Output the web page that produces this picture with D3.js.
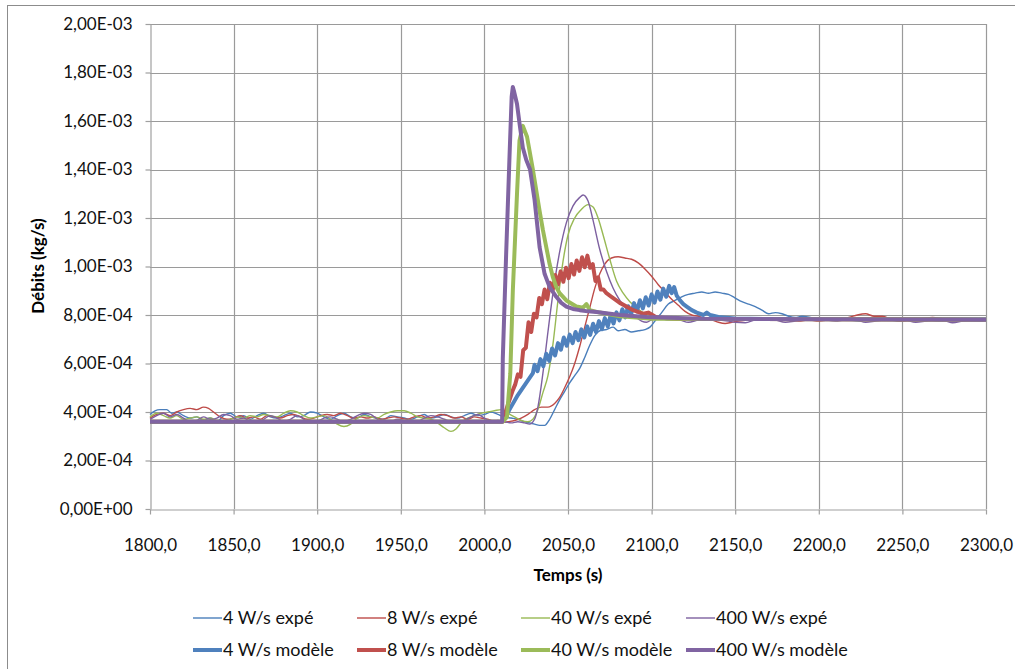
<!DOCTYPE html>
<html>
<head>
<meta charset="utf-8">
<script src="https://cdn.jsdelivr.net/npm/d3@7"></script>
<style>
  body { margin: 0; background: #fff; }
  svg { display: block; font-family: Lato, "Open Sans", sans-serif; }
</style>
</head>
<body>
<div id="chart"></div>
<script>
// values in 1e-4 kg/s, time in s
const unit = 1e-4;

const xTicks = [1800, 1850, 1900, 1950, 2000, 2050, 2100, 2150, 2200, 2250, 2300];
const yTicks = [0, 2, 4, 6, 8, 10, 12, 14, 16, 18, 20];

const seriesNames = ["4 W/s expé", "8 W/s expé", "40 W/s expé", "400 W/s expé",
                     "4 W/s modèle", "8 W/s modèle", "40 W/s modèle", "400 W/s modèle"];

const exp4 = [[1800,3.9],[1803,4.05],[1806,4.1],[1810,4.1],[1813,3.95],[1816,4.0],[1820,3.85],[1824,3.75],[1828,3.8],[1832,3.65],[1836,3.75],[1840,3.6],[1844,3.85],[1848,3.95],[1852,3.8],[1856,3.85],[1860,3.7],[1864,3.85],[1868,3.95],[1872,3.8],[1876,3.75],[1880,3.85],[1884,3.95],[1888,3.8],[1892,3.85],[1896,4.0],[1900,3.95],[1904,3.8],[1908,3.7],[1912,3.85],[1916,3.95],[1920,3.8],[1924,3.75],[1928,3.9],[1932,3.8],[1936,3.75],[1940,3.7],[1944,3.85],[1948,3.8],[1952,3.75],[1956,3.7],[1960,3.8],[1964,3.9],[1968,3.75],[1972,3.8],[1976,3.9],[1980,3.8],[1984,3.75],[1988,3.85],[1992,3.95],[1996,3.85],[2000,3.9],[2004,4.0],[2008,3.9],[2012,3.8],[2016,3.75],[2020,3.7],[2024,3.6],[2027,3.55],[2030,3.5],[2033,3.45],[2036,3.45],[2039,3.7],[2042,4.1],[2045,4.5],[2048,4.85],[2051,5.2],[2054,5.5],[2057,5.8],[2060,6.25],[2063,6.75],[2066,7.15],[2069,7.35],[2073,7.4],[2077,7.5],[2080,7.35],[2084,7.4],[2088,7.3],[2092,7.35],[2096,7.4],[2099,7.5],[2102,7.75],[2106,8.1],[2110,8.45],[2114,8.6],[2118,8.75],[2122,8.85],[2126,8.9],[2130,8.95],[2134,8.9],[2138,8.95],[2142,8.9],[2146,8.85],[2150,8.7],[2154,8.55],[2158,8.45],[2162,8.35],[2166,8.2],[2170,8.05],[2174,8.1],[2178,8.05],[2182,7.95],[2186,7.9],[2190,7.95],[2195,7.9],[2200,7.85],[2206,7.8],[2212,7.85],[2218,7.8],[2224,7.75],[2230,7.8],[2236,7.85],[2242,7.8],[2248,7.75],[2254,7.8],[2260,7.85],[2266,7.8],[2272,7.75],[2278,7.8],[2284,7.85],[2290,7.8],[2296,7.75],[2300,7.8]];

const exp8 = [[1800,3.75],[1804,3.9],[1808,3.95],[1812,3.85],[1816,4.0],[1820,4.1],[1824,4.15],[1828,4.1],[1832,4.2],[1835,4.15],[1838,4.0],[1842,3.8],[1846,3.7],[1850,3.75],[1854,3.85],[1858,3.75],[1862,3.8],[1866,3.7],[1870,3.85],[1874,3.8],[1878,3.75],[1882,3.85],[1886,3.9],[1890,3.8],[1894,3.7],[1898,3.75],[1902,3.85],[1906,3.9],[1910,3.85],[1914,3.95],[1918,3.85],[1922,3.75],[1926,3.8],[1930,3.75],[1934,3.8],[1938,3.7],[1942,3.75],[1946,3.8],[1950,3.75],[1954,3.7],[1958,3.8],[1962,3.85],[1966,3.75],[1970,3.8],[1974,3.9],[1978,3.85],[1982,3.75],[1986,3.8],[1990,3.7],[1994,3.8],[1998,3.75],[2002,3.7],[2006,3.6],[2010,3.55],[2014,3.6],[2018,3.65],[2022,3.75],[2026,3.9],[2030,4.1],[2034,4.2],[2038,4.2],[2042,4.35],[2045,4.6],[2048,5.0],[2051,5.45],[2054,6.0],[2057,6.7],[2060,7.5],[2063,8.3],[2066,9.1],[2069,9.7],[2072,10.1],[2076,10.35],[2080,10.4],[2084,10.35],[2088,10.3],[2092,10.15],[2096,9.9],[2100,9.6],[2104,9.25],[2108,8.95],[2112,8.65],[2116,8.4],[2120,8.15],[2124,8.0],[2128,7.95],[2132,7.85],[2136,7.8],[2140,7.7],[2144,7.65],[2148,7.7],[2152,7.75],[2158,7.8],[2164,7.85],[2170,7.8],[2176,7.85],[2182,7.8],[2188,7.75],[2194,7.8],[2200,7.75],[2206,7.8],[2212,7.85],[2218,7.9],[2223,8.0],[2228,8.05],[2233,7.95],[2238,7.95],[2244,7.8],[2250,7.75],[2256,7.8],[2262,7.85],[2268,7.9],[2274,7.85],[2280,7.8],[2286,7.85],[2292,7.8],[2300,7.8]];

const exp40 = [[1800,3.8],[1804,3.95],[1808,3.85],[1812,3.75],[1816,3.85],[1820,3.7],[1824,3.75],[1828,3.8],[1832,3.7],[1836,3.75],[1840,3.65],[1844,3.6],[1848,3.7],[1852,3.8],[1856,3.75],[1860,3.85],[1864,3.8],[1868,3.9],[1872,3.85],[1876,3.8],[1880,3.95],[1884,4.05],[1888,4.0],[1892,3.85],[1896,3.75],[1900,3.8],[1904,3.85],[1908,3.7],[1912,3.5],[1916,3.4],[1920,3.5],[1924,3.75],[1928,3.85],[1932,3.8],[1936,3.75],[1940,3.9],[1944,4.0],[1948,4.05],[1952,4.05],[1956,3.95],[1960,3.8],[1964,3.75],[1968,3.7],[1972,3.55],[1976,3.35],[1980,3.2],[1983,3.3],[1986,3.55],[1990,3.75],[1994,3.85],[1998,3.95],[2002,4.0],[2006,4.05],[2010,4.1],[2014,3.95],[2018,3.8],[2022,3.65],[2026,3.6],[2029,3.7],[2032,4.1],[2035,4.8],[2038,5.5],[2041,6.8],[2044,8.6],[2047,10.2],[2050,11.3],[2054,12.0],[2058,12.35],[2062,12.55],[2065,12.45],[2068,12.0],[2071,11.3],[2075,10.3],[2079,9.4],[2083,8.9],[2087,8.55],[2091,8.3],[2095,8.1],[2100,7.95],[2106,7.9],[2112,7.85],[2118,7.8],[2124,7.85],[2130,7.8],[2136,7.85],[2142,7.8],[2148,7.85],[2154,7.8],[2160,7.85],[2166,7.8],[2172,7.85],[2178,7.8],[2184,7.85],[2190,7.8],[2196,7.85],[2202,7.8],[2208,7.85],[2214,7.8],[2220,7.85],[2226,7.8],[2232,7.85],[2238,7.8],[2244,7.85],[2250,7.8],[2256,7.85],[2262,7.8],[2268,7.85],[2274,7.8],[2280,7.85],[2286,7.8],[2292,7.85],[2300,7.8]];

const exp400 = [[1800,3.7],[1804,3.85],[1808,3.95],[1812,3.8],[1816,3.9],[1820,3.75],[1824,3.6],[1828,3.65],[1832,3.8],[1836,3.7],[1840,3.75],[1844,3.9],[1848,3.85],[1852,3.7],[1856,3.75],[1860,3.6],[1864,3.55],[1868,3.7],[1872,3.85],[1876,3.75],[1880,3.6],[1884,3.7],[1888,3.85],[1892,3.7],[1896,3.55],[1900,3.6],[1904,3.75],[1908,3.8],[1912,3.7],[1916,3.6],[1920,3.7],[1924,3.85],[1928,3.95],[1932,3.9],[1936,3.7],[1940,3.55],[1944,3.6],[1948,3.7],[1952,3.65],[1956,3.55],[1960,3.6],[1964,3.75],[1968,3.85],[1972,3.8],[1976,3.7],[1980,3.6],[1984,3.55],[1988,3.65],[1992,3.8],[1996,3.9],[2000,3.75],[2004,3.6],[2008,3.65],[2012,3.6],[2016,3.55],[2020,3.6],[2024,3.55],[2027,3.5],[2030,3.7],[2032,4.2],[2035,5.6],[2038,7.3],[2041,8.9],[2045,10.6],[2049,11.8],[2053,12.5],[2057,12.85],[2059,12.95],[2062,12.7],[2065,11.9],[2069,10.7],[2073,9.8],[2077,9.1],[2081,8.6],[2085,8.25],[2090,7.95],[2094,7.75],[2097,7.7],[2100,7.8],[2105,7.85],[2110,7.8],[2116,7.8],[2122,7.7],[2128,7.8],[2134,7.85],[2140,7.8],[2146,7.75],[2150,7.7],[2156,7.68],[2162,7.8],[2168,7.85],[2174,7.8],[2180,7.7],[2186,7.75],[2192,7.8],[2198,7.85],[2204,7.8],[2210,7.75],[2216,7.8],[2222,7.8],[2228,7.7],[2234,7.75],[2240,7.8],[2246,7.85],[2252,7.8],[2258,7.7],[2264,7.75],[2270,7.8],[2276,7.75],[2280,7.68],[2286,7.75],[2292,7.8],[2300,7.85]];

const mod4 = [[1800,3.6],[2010.5,3.6],[2015,4.1],[2020,4.7],[2025,5.2],[2029,5.6],[2030,5.95],[2031.75,5.68],[2033.5,6.18],[2035.25,5.89],[2037,6.4],[2038.75,6.11],[2040.5,6.62],[2042.25,6.33],[2044,6.84],[2045.75,6.57],[2047.5,7.07],[2049.25,6.73],[2051,7.19],[2052.75,6.84],[2054.5,7.3],[2056.25,6.96],[2058,7.41],[2059.75,7.07],[2061.5,7.53],[2063.25,7.18],[2065,7.64],[2066.75,7.29],[2068.5,7.75],[2070.25,7.41],[2072,7.87],[2073.75,7.53],[2075.5,7.99],[2077.25,7.65],[2079,8.11],[2080.75,7.78],[2082.5,8.24],[2084.25,7.9],[2086,8.36],[2087.75,8.03],[2089.5,8.49],[2091.25,8.15],[2093,8.61],[2094.75,8.27],[2096.5,8.73],[2098.25,8.39],[2100,8.85],[2101.75,8.51],[2103.5,8.97],[2105.25,8.63],[2107,9.09],[2108.75,8.75],[2110.5,9.2],[2112,8.9],[2113.5,9.15],[2115,8.8],[2117,8.6],[2119,8.45],[2121,8.35],[2124,8.2],[2127,8.1],[2131,8.0],[2133,8.1],[2135,8.0],[2140,7.92],[2150,7.86],[2170,7.83],[2300,7.82]];

const mod8 = [[1800,3.6],[2010.5,3.6],[2012,3.85],[2014,4.3],[2017,4.9],[2018.5,5.15],[2020,5.55],[2021.6,5.45],[2023.2,6.55],[2024.8,6.65],[2026.4,7.7],[2028,7.3],[2029.6,8.05],[2031.2,7.9],[2032.8,8.7],[2034.4,8.45],[2036,9.05],[2037.6,8.65],[2039.2,9.33],[2040.8,9.0],[2042.4,9.65],[2044,9.25],[2045.6,9.8],[2047.2,9.37],[2048.8,9.95],[2050.4,9.52],[2052,10.1],[2053.6,9.67],[2055.2,10.25],[2056.8,9.82],[2058.4,10.38],[2060,9.97],[2061.6,10.45],[2063.2,9.95],[2064.8,10.1],[2066.4,9.4],[2068,9.55],[2069.6,9.05],[2071.2,9.05],[2073,8.9],[2076,8.75],[2081,8.5],[2085,8.35],[2089,8.2],[2095,8.05],[2098,8.1],[2103,7.9],[2115,7.85],[2300,7.8]];

const mod40 = [[1800,3.6],[2011,3.6],[2013.5,3.8],[2015.5,5.6],[2017,9.0],[2019.5,13.0],[2021,15.2],[2023,15.8],[2025.5,15.35],[2029,14.0],[2033,12.3],[2035,11.5],[2037,10.8],[2039,10.1],[2041,9.55],[2043,9.15],[2045,8.9],[2049,8.6],[2055,8.35],[2059,8.3],[2061,8.45],[2063,8.2],[2069,8.1],[2081,7.95],[2100,7.85],[2300,7.8]];

const mod400 = [[1800,3.6],[2010.6,3.6],[2011,6.2],[2013,10.5],[2015,14.5],[2016.3,17.0],[2017,17.4],[2017.8,17.2],[2019.5,16.7],[2021.3,15.75],[2023,14.9],[2025,14.4],[2027.3,14.0],[2030,12.75],[2033,10.8],[2036,9.7],[2039,9.15],[2043,8.75],[2046,8.5],[2049,8.35],[2053,8.25],[2057,8.2],[2062,8.15],[2067,8.12],[2081,8.0],[2097,7.92],[2130,7.85],[2300,7.8]];

const seriesData = [exp4, exp8, exp40, exp400, mod4, mod8, mod40, mod400];
const seriesColors = ["#4a7ebb", "#be4b48", "#98b954", "#7d60a0", "#4f81bd", "#c0504d", "#9bbb59", "#8064a2"];
const seriesWidths = [1.4, 1.4, 1.4, 1.4, 4, 4, 4, 4];

const W = 1015, H = 669;
const plot = {left: 150, top: 24, right: 986, bottom: 509};

const svg = d3.select('#chart').append('svg')
    .attr('width', W).attr('height', H);

// outer chart border (right/bottom fall outside the picture)
svg.append('rect')
    .attr('x', 7.5).attr('y', 5.5)
    .attr('width', W + 10).attr('height', H + 10)
    .attr('fill', 'none').attr('stroke', '#8c8c8c');

const x = d3.scaleLinear().domain([1800, 2300]).range([plot.left, plot.right]);
const y = d3.scaleLinear().domain([0, 20 * unit]).range([plot.bottom, plot.top]);

const loc = d3.formatLocale({decimal: ",", thousands: "", grouping: [3], currency: ["", ""]});
const fmtX = loc.format(".1f");
function fmtE(v) {
    if (v === 0) return "0,00E+00";
    const e = Math.floor(Math.log10(v) + 1e-9);
    const m = v / Math.pow(10, e);
    const s = e < 0 ? "-" : "+";
    return m.toFixed(2).replace(".", ",") + "E" + s + String(Math.abs(e)).padStart(2, "0");
}

const gridColor = '#9a9a9a';

// grid
svg.append('g').selectAll('line')
    .data(yTicks.filter(d => d > 0))
    .join('line')
    .attr('x1', plot.left).attr('x2', plot.right)
    .attr('y1', d => Math.round(y(d * unit)) + 0.5)
    .attr('y2', d => Math.round(y(d * unit)) + 0.5)
    .attr('stroke', gridColor).attr('stroke-width', 1.2);

svg.append('g').selectAll('line')
    .data(xTicks.filter(d => d > 1800))
    .join('line')
    .attr('y1', plot.top).attr('y2', plot.bottom)
    .attr('x1', d => Math.round(x(d)) + 0.5)
    .attr('x2', d => Math.round(x(d)) + 0.5)
    .attr('stroke', gridColor).attr('stroke-width', 1.2);

// axes
const axisY = d3.axisLeft(y)
    .tickValues(yTicks.map(d => d * unit))
    .tickFormat(fmtE)
    .tickSizeInner(5).tickSizeOuter(0).tickPadding(13);
const axisX = d3.axisBottom(x)
    .tickValues(xTicks)
    .tickFormat(fmtX)
    .tickSizeInner(5).tickSizeOuter(0).tickPadding(24);

const gy = svg.append('g')
    .attr('transform', `translate(${plot.left + 0.5},0)`)
    .call(axisY);
const gx = svg.append('g')
    .attr('transform', `translate(0,${plot.bottom + 0.5})`)
    .call(axisX);

[gx, gy].forEach(g => {
    g.selectAll('path, line').attr('stroke', '#a0a0a0').attr('stroke-width', 1.2);
    g.selectAll('text').attr('font-size', 17).attr('fill', '#111')
        .attr('font-family', 'Lato, sans-serif');
});

// axis titles
svg.append('text')
    .attr('transform', 'translate(44,266) rotate(-90)')
    .attr('text-anchor', 'middle')
    .attr('font-size', 17).attr('font-weight', 'bold')
    .text('Débits (kg/s)');

svg.append('text')
    .attr('x', (plot.left + plot.right) / 2).attr('y', 581)
    .attr('text-anchor', 'middle')
    .attr('font-size', 17).attr('font-weight', 'bold')
    .text('Temps (s)');

// series
const line = d3.line()
    .x(d => x(d[0]))
    .y(d => y(d[1] * unit));
const smooth = d3.line()
    .x(d => x(d[0]))
    .y(d => y(d[1] * unit))
    .curve(d3.curveMonotoneX);

svg.append('g').selectAll('path')
    .data(seriesData)
    .join('path')
    .attr('d', (d, i) => i < 4 ? smooth(d) : line(d))
    .attr('fill', 'none')
    .attr('stroke', (d, i) => seriesColors[i])
    .attr('stroke-width', (d, i) => seriesWidths[i])
    .attr('stroke-linejoin', 'round');

// legend
const legX = [193, 357, 521, 686];
const legY = [618, 650];
const leg = svg.append('g').selectAll('g')
    .data(seriesNames)
    .join('g')
    .attr('transform', (d, i) => `translate(${legX[i % 4]},${legY[Math.floor(i / 4)]})`);

leg.append('line')
    .attr('x1', 0).attr('x2', 29)
    .attr('stroke', (d, i) => seriesColors[i])
    .attr('stroke-width', (d, i) => seriesWidths[i]);

leg.append('text')
    .attr('x', 30).attr('dy', '0.35em')
    .attr('font-size', 18).attr('fill', '#111')
    .text(d => d);
</script>
</body>
</html>
